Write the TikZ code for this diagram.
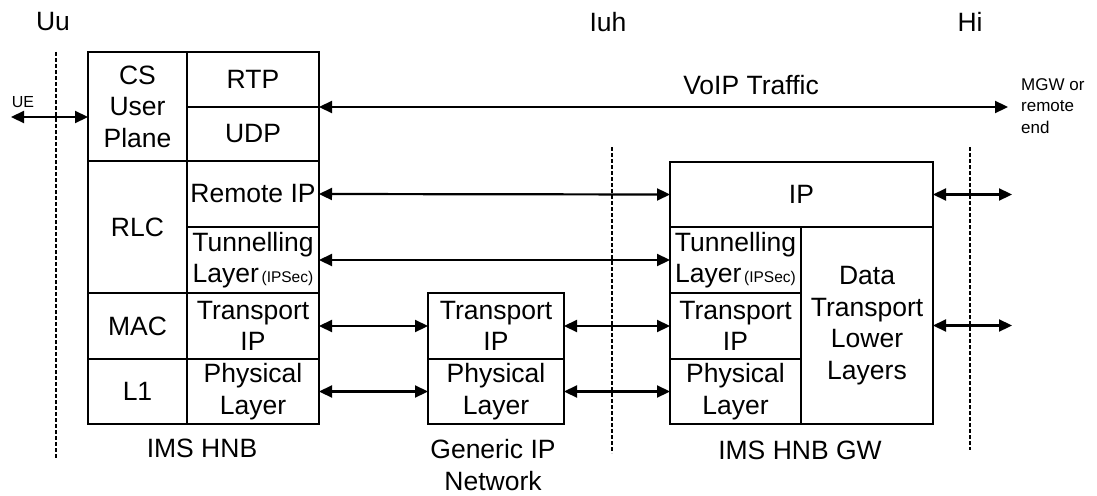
\documentclass[tikz,border=0pt]{standalone}
\usepackage{fontspec}
\setmainfont{Liberation Sans}
\usetikzlibrary{arrows.meta}

\newcommand{\ipsectag}{{\fontsize{15.5}{18}\selectfont\,(IPSec)}}

\begin{document}
\begin{tikzpicture}[x=1pt,y=-1pt,
  cell/.style={draw,line width=2pt,inner sep=0pt,outer sep=0pt,anchor=north west,align=center,font=\fontsize{26.5}{31.5}\selectfont},
  lbl/.style={inner sep=0pt,align=center,font=\fontsize{26.5}{31.5}\selectfont},
  link/.style={line width=2.2pt,{Triangle[length=13pt,width=12pt]}-{Triangle[length=13pt,width=12pt]}},
  border/.style={line width=1.6pt,dash pattern=on 4pt off 2pt}]

\useasboundingbox (0,0) rectangle (1097,495);

% IMS HNB
\node [cell,minimum width=99pt,minimum height=109pt] (cs) at (88,52) {CS\\User\\Plane};
\node [cell,minimum width=132pt,minimum height=55pt] (rtp) at (187,52) {RTP};
\node [cell,minimum width=132pt,minimum height=54pt] (udp) at (187,107) {UDP};
\node [cell,minimum width=99pt,minimum height=132pt] (rlc) at (88,161) {RLC};
\node [cell,minimum width=132pt,minimum height=66pt] (rip) at (187,161) {Remote IP};
\node [cell,minimum width=132pt,minimum height=66pt] (tun) at (187,227) {Tunnelling\\Layer\ipsectag};
\node [cell,minimum width=99pt,minimum height=66pt] (mac) at (88,293) {MAC};
\node [cell,minimum width=132pt,minimum height=66pt] (tip) at (187,293) {Transport\\IP};
\node [cell,minimum width=99pt,minimum height=65pt] (l1) at (88,359) {L1};
\node [cell,minimum width=132pt,minimum height=65pt] (phy) at (187,359) {Physical\\Layer};
\node [lbl] (hnb) at (202,448) {IMS HNB};

% Generic IP Network
\node [cell,minimum width=136pt,minimum height=66pt] (tip2) at (428,293) {Transport\\IP};
\node [cell,minimum width=136pt,minimum height=65pt] (phy2) at (428,359) {Physical\\Layer};
\node [lbl] (net) at (493,465) {Generic IP\\Network};

% IMS HNB GW
\node [cell,minimum width=263pt,minimum height=65pt] (ip3) at (670,162) {IP};
\node [cell,minimum width=131pt,minimum height=66pt] (tun3) at (670,227) {Tunnelling\\Layer\ipsectag};
\node [cell,minimum width=131pt,minimum height=66pt] (tip3) at (670,293) {Transport\\IP};
\node [cell,minimum width=131pt,minimum height=65pt] (phy3) at (670,359) {Physical\\Layer};
\node [cell,minimum width=132pt,minimum height=197pt] (dtl) at (801,227) {Data\\Transport\\Lower\\Layers};
\node [lbl] (hnbgw) at (800,450) {IMS HNB GW};

% Interfaces
\node [lbl] (uu) at (53,22) {Uu};
\node [lbl] (iuh) at (608,22) {Iuh};
\node [lbl] (hi) at (970,22) {Hi};
\draw [border] (56,52) -- (56,458);
\draw [border] (612,147) -- (612,453);
\draw [border] (970,147) -- (970,450);

% Text Node
\node [inner sep=0pt,font=\fontsize{16}{18}\selectfont] (ue) at (23,102) {UE};
\node [lbl] (voip) at (751,85) {VoIP Traffic};
\node [anchor=west,inner sep=0pt,align=left,font=\fontsize{17}{21.5}\selectfont] (mgw) at (1021,106) {MGW or\\remote\\end};

% Arrows
\coordinate (uepos) at (11,117);
\coordinate (mgwpos) at (1008,107);
\coordinate (hipos) at (1012,194);
\draw [link] (uepos) -- (uepos -| cs.west);
\draw [link] (rtp.south east) -- (mgwpos);
\draw [link] (rip.east) -- (ip3.west);
\draw [link] (tun.east) -- (tun3.west);
\draw [link] (tip.east) -- (tip2.west);
\draw [link] (phy.east) -- (phy2.west);
\draw [link] (tip2.east) -- (tip3.west);
\draw [link] (phy2.east) -- (phy3.west);
\draw [link] (ip3.east) -- (ip3.east -| hipos);
\draw [link] (dtl.east) -- (dtl.east -| hipos);

\end{tikzpicture}
\end{document}
